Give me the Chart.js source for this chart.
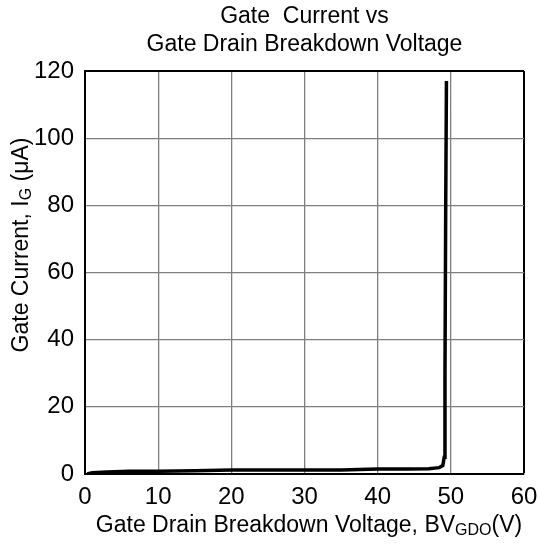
<!DOCTYPE html>
<html><head><meta charset="utf-8">
<script src="https://cdn.jsdelivr.net/npm/chart.js@4/dist/chart.umd.min.js"></script>
<style>html,body{margin:0;padding:0;background:#fff}canvas{display:block}</style>
</head><body>
<canvas id="c" width="538" height="544"></canvas>
<script>
const voltage = [0.3, 1, 3, 6, 10, 15, 20, 25, 30, 35, 40, 44, 47, 48.4, 48.9, 49.1, 49.2, 49.3, 49.4];
const currentUA = [0, 0.4, 0.6, 0.8, 0.8, 1.0, 1.2, 1.2, 1.2, 1.2, 1.5, 1.5, 1.6, 1.9, 2.5, 5, 30, 80, 117];
const xTicks = [0, 10, 20, 30, 40, 50, 60];
const yTicks = [0, 20, 40, 60, 80, 100, 120];
const titleLines = ["Gate  Current vs", "Gate Drain Breakdown Voltage"];
const FONT = "Liberation Sans, Arial, sans-serif";

const textPlugin = {
  id: 'texts',
  afterDraw(chart) {
    const ctx = chart.ctx, a = chart.chartArea;
    ctx.save();
    ctx.fillStyle = '#000';
    ctx.textBaseline = 'middle';
    ctx.textAlign = 'center';
    ctx.font = '23px ' + FONT;
    const cx = (a.left + a.right) / 2;
    ctx.fillText(titleLines[0], cx, 17);
    ctx.fillText(titleLines[1], cx, 45);

    function drawParts(parts, x0, y) {
      let w = 0;
      parts.forEach(p => { ctx.font = p[1] + 'px ' + FONT; w += ctx.measureText(p[0]).width; });
      let x = x0 - w / 2;
      ctx.textAlign = 'left';
      parts.forEach(p => { ctx.font = p[1] + 'px ' + FONT; ctx.fillText(p[0], x, y + p[2]); x += ctx.measureText(p[0]).width; });
    }
    drawParts([["Gate Drain Breakdown Voltage, BV", 23, 0], ["GDO", 16, 5], ["(V)", 23, 0]], 309, 526);

    ctx.translate(22, 245);
    ctx.rotate(-Math.PI / 2);
    drawParts([["Gate Current, I", 23, 0], ["G", 16, 5], [" (\u03bcA)", 23, 0]], 0, 0);
    ctx.restore();
  }
};

new Chart(document.getElementById('c'), {
  type: 'line',
  data: {
    datasets: [{
      data: voltage.map((v, i) => ({x: v, y: currentUA[i]})),
      borderColor: '#000',
      borderWidth: 3.5,
      pointRadius: 0,
      tension: 0,
      fill: false
    }]
  },
  options: {
    responsive: false,
    animation: false,
    layout: {padding: {left: 0, right: 14, top: 71, bottom: 0}},
    plugins: {legend: {display: false}, tooltip: {enabled: false}, title: {display: false}},
    scales: {
      x: {
        type: 'linear', min: 0, max: 60,
        afterBuildTicks: s => { s.ticks = xTicks.map(v => ({value: v})); },
        afterFit: s => { s.height = 70; s.paddingLeft = 0; s.paddingRight = 0; },
        grid: {
          color: ctx => (ctx.tick && (ctx.tick.value === 60) ? '#000' : '#7f7f7f'),
          lineWidth: ctx => (ctx.tick && (ctx.tick.value === 60) ? 2 : 1.3),
          drawTicks: false
        },
        border: {color: '#000', width: 2},
        ticks: {color: '#000', font: {family: FONT, size: 24}, padding: 9, maxRotation: 0}
      },
      y: {
        type: 'linear', min: 0, max: 120,
        afterBuildTicks: s => { s.ticks = yTicks.map(v => ({value: v})); },
        afterFit: s => { s.width = 85; s.paddingTop = 0; s.paddingBottom = 0; },
        grid: {
          color: ctx => (ctx.tick && (ctx.tick.value === 120) ? '#000' : '#7f7f7f'),
          lineWidth: ctx => (ctx.tick && (ctx.tick.value === 120) ? 2 : 1.3),
          drawTicks: false
        },
        border: {color: '#000', width: 2},
        ticks: {color: '#000', font: {family: FONT, size: 24}, padding: 11}
      }
    }
  },
  plugins: [textPlugin]
});
</script>
</body></html>
